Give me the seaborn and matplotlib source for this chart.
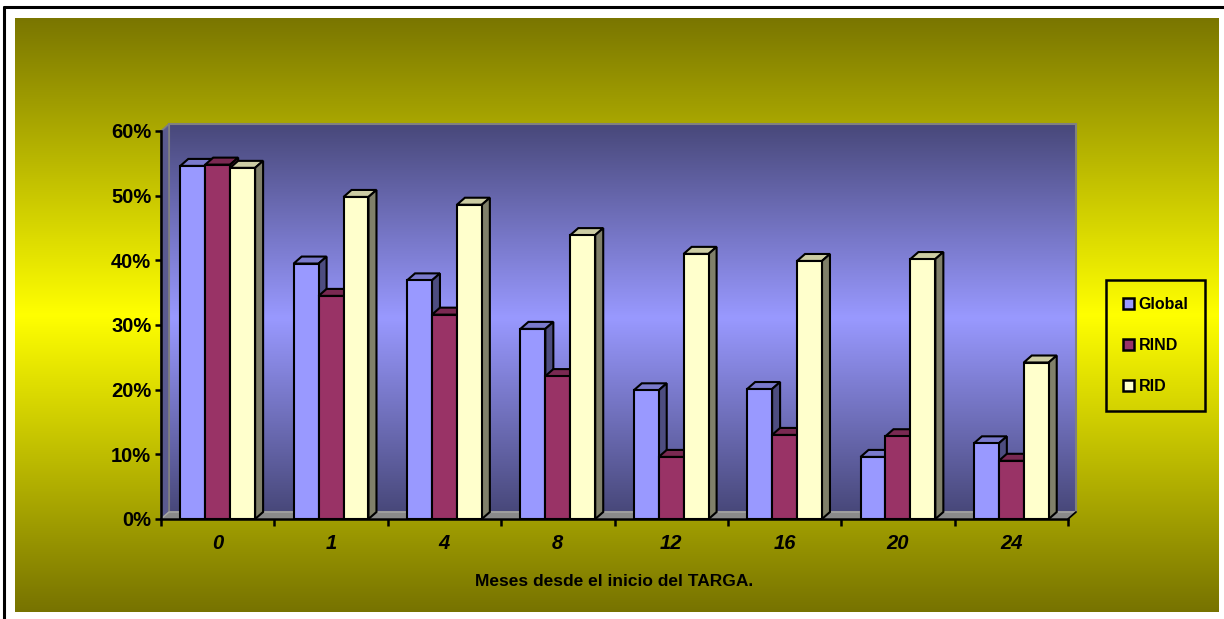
import numpy as np
import pandas as pd
import matplotlib
matplotlib.use("Agg")
import matplotlib.pyplot as plt
import seaborn as sns
from matplotlib.patches import Polygon, Patch, Rectangle
from matplotlib.lines import Line2D
from matplotlib.colors import LinearSegmentedColormap
from matplotlib.ticker import PercentFormatter, FixedLocator

# ---- data -------------------------------------------------------------
meses = ["0", "1", "4", "8", "12", "16", "20", "24"]
series = ["Global", "RIND", "RID"]
global_vals = [54.6, 39.5, 36.9, 29.4, 19.9, 20.1, 9.6, 11.7]
rind_vals = [54.8, 34.5, 31.6, 22.1, 9.6, 13.0, 12.8, 9.0]
rid_vals = [54.3, 49.8, 48.6, 43.9, 41.0, 39.9, 40.2, 24.2]
x_title = "Meses desde el inicio del TARGA."

df = pd.DataFrame({
    "mes": meses * 3,
    "serie": [s for s in series for _ in meses],
    "valor": np.array(global_vals + rind_vals + rid_vals) / 100.0,
})

# face colours: front, top, side
front = {"Global": "#9999FF", "RIND": "#993366", "RID": "#FFFFCC"}
top = {"Global": "#7A7ACC", "RIND": "#7A2952", "RID": "#CCCCA3"}
side = {"Global": "#4D4D80", "RIND": "#4D1A33", "RID": "#80806A"}

# ---- figure -----------------------------------------------------------
W, H = 1224, 619
sns.set_theme(style="white")
plt.rcParams["font.family"] = ["Liberation Sans", "DejaVu Sans"]
plt.rcParams["text.color"] = "black"
plt.rcParams["xtick.color"] = "black"
plt.rcParams["ytick.color"] = "black"
plt.rcParams["axes.labelcolor"] = "black"
fig = plt.figure(figsize=(W / 100, H / 100), dpi=100)
fig.patch.set_facecolor("white")

def fbox(x0, y0, x1, y1):
    """pixel box (top-left origin) -> figure fraction rect"""
    return [x0 / W, 1 - y1 / H, (x1 - x0) / W, (y1 - y0) / H]

# olive / yellow gradient chart area
bg = fig.add_axes(fbox(15, 18, 1219, 612), zorder=-10)
olive = LinearSegmentedColormap.from_list(
    "olive", [(0, "#7A7600"), (0.5, "#FFFF00"), (1, "#777300")])
grad = np.linspace(0, 1, 256).reshape(-1, 1)
bg.imshow(grad, cmap=olive, aspect="auto", extent=(0, 1, 0, 1), origin="upper")
bg.set_axis_off()

# outer frame lines
fig.add_artist(Line2D([4 / W, 1], [1 - 7 / H, 1 - 7 / H], color="black", lw=2.2,
                      transform=fig.transFigure))
fig.add_artist(Line2D([4 / W, 4 / W], [0, 1 - 7 / H], color="black", lw=2.2,
                      transform=fig.transFigure))

# plotting axes
ax = fig.add_axes(fbox(161, 131, 1068, 519))
ax.set_facecolor("none")

sns.barplot(data=df, x="mes", y="valor", hue="serie", order=meses,
            hue_order=series, palette=front, width=0.66, gap=0,
            edgecolor="black", linewidth=1.5, errorbar=None, legend=False,
            saturation=1, ax=ax)

ax.set_xlim(-0.5, len(meses) - 0.5)
ax.set_ylim(0, 0.6)

# depth offset of the 3D look, expressed in data units
dpx, dpy = 8, 7
ax_w_px = 907
ax_h_px = 388
dx = dpx * (len(meses)) / ax_w_px
dy = dpy * 0.6 / ax_h_px

# back wall with blue gradient
wall_cmap = LinearSegmentedColormap.from_list(
    "wall", [(0, "#48487A"), (0.5, "#9999FF"), (1, "#48487A")])
x0, x1 = ax.get_xlim()
ax.imshow(grad, cmap=wall_cmap, aspect="auto", origin="upper",
          extent=(x0 + dx, x1 + dx, dy, 0.6 + dy), clip_on=False, zorder=0.2)
ax.add_patch(Rectangle((x0 + dx, dy), x1 - x0, 0.6, fill=False,
                       edgecolor="#808080", lw=1.5, clip_on=False, zorder=0.3))
# left side wall
ax.add_patch(Polygon([(x0, 0), (x0, 0.6), (x0 + dx, 0.6 + dy), (x0 + dx, dy)],
                     closed=True, facecolor="#5A5A90", edgecolor="#808080",
                     lw=1.2, clip_on=False, zorder=0.4))
# floor
ax.add_patch(Polygon([(x0, 0), (x1, 0), (x1 + dx, dy), (x0 + dx, dy)],
                     closed=True, facecolor="#8A8A8A", edgecolor="#A8A8A8",
                     lw=1.0, clip_on=False, zorder=0.5))
ax.add_line(Line2D([x1, x1 + dx], [0, dy], color="black", lw=1.3,
                   clip_on=False, zorder=0.6))

# 3D tops and sides for every bar
for i, (name, cont) in enumerate(zip(series, ax.containers)):
    for bar in cont.patches:
        bx, bw, bh = bar.get_x(), bar.get_width(), bar.get_height()
        bar.set_zorder(3 + 2 * i)
        cap = Polygon([(bx, bh), (bx + bw, bh), (bx + bw + dx, bh + dy),
                       (bx + dx, bh + dy)], closed=True, facecolor=top[name],
                      edgecolor="black", lw=1.5, joinstyle="miter",
                      zorder=2 + 2 * i, clip_on=False)
        sd = Polygon([(bx + bw, 0), (bx + bw, bh), (bx + bw + dx, bh + dy),
                      (bx + bw + dx, dy)], closed=True, facecolor=side[name],
                     edgecolor="black", lw=1.5, joinstyle="miter",
                     zorder=2 + 2 * i, clip_on=False)
        ax.add_patch(cap)
        ax.add_patch(sd)

# axes styling
for s in ["top", "right"]:
    ax.spines[s].set_visible(False)
for s in ["left", "bottom"]:
    ax.spines[s].set_color("black")
    ax.spines[s].set_linewidth(1.8)
    ax.spines[s].set_zorder(20)

ax.yaxis.set_major_locator(FixedLocator(np.arange(0, 0.61, 0.1)))
ax.yaxis.set_major_formatter(PercentFormatter(1.0, decimals=0))
ax.tick_params(axis="y", which="major", direction="out", length=4, width=1.8,
               color="black", labelcolor="black", pad=3, labelsize=14.5,
               left=True)
for t in ax.get_yticklabels():
    t.set_fontweight("bold")

ax.xaxis.set_minor_locator(FixedLocator(np.arange(-0.5, len(meses), 1.0)))
ax.tick_params(axis="x", which="minor", direction="out", length=5, width=1.8,
               color="black", bottom=True)
ax.tick_params(axis="x", which="major", length=0, pad=11, labelsize=14.5,
               labelcolor="black")
for t in ax.get_xticklabels():
    t.set_fontweight("bold")
    t.set_fontstyle("italic")

ax.set_xlabel("")
ax.set_ylabel("")
fig.text(614 / W, 1 - 581 / H, x_title, ha="center", va="center",
         fontsize=12.5, fontweight="bold", color="black")

# legend
handles = [Patch(facecolor=front[s], edgecolor="black", lw=1.8) for s in series]
leg = fig.legend(handles, series, loc="upper left",
                 bbox_to_anchor=(1106 / W, 1 - 280 / H),
                 frameon=True, fancybox=False, framealpha=1,
                 handlelength=0.7, handleheight=0.7, handletextpad=0.3,
                 labelspacing=1.65, borderpad=1.05, borderaxespad=0,
                 prop={"weight": "bold", "size": 11.5})
for t in leg.get_texts():
    t.set_color("black")
frame = leg.get_frame()
frame.set_facecolor("none")
frame.set_edgecolor("black")
frame.set_linewidth(1.8)

fig.savefig("out.png", dpi=100, facecolor="white")
